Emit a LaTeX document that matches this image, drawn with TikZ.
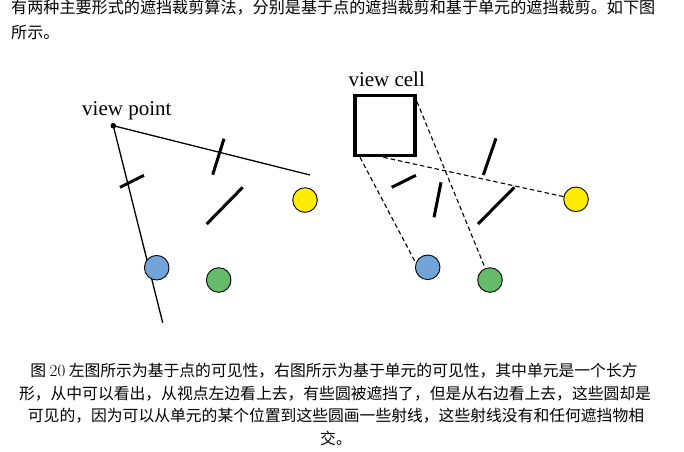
\documentclass[tikz,border=0pt]{standalone}
\usepackage{fontspec}
\newfontfamily\cjk{Noto Sans CJK SC}
\newfontfamily\tms{Liberation Serif}
\definecolor{bb}{RGB}{114,164,216}
\definecolor{gb}{RGB}{102,187,106}
\definecolor{yb}{RGB}{255,236,0}
\begin{document}
\begin{tikzpicture}[x=1pt,y=-1pt,
  ray/.style={line width=1.3pt},
  occ/.style={line width=3pt},
  dray/.style={line width=1.1pt, dash pattern=on 4.5pt off 3pt},
  ball/.style={circle, draw, line width=0.9pt, minimum size=24.6pt, inner sep=0pt},
  lbl/.style={font=\tms\fontsize{21}{24}\selectfont, inner sep=0pt},
  cjktext/.style={font=\cjk\fontsize{15.8}{18}\selectfont, inner sep=0pt},
  cjktop/.style={font=\cjk\fontsize{16.1}{18}\selectfont, inner sep=0pt}]
\useasboundingbox (0,0) rectangle (684,451);

% top paragraph
\node[cjktop, anchor=west] (p1) at (11,7.5)
  {有两种主要形式的遮挡裁剪算法，分别是基于点的遮挡裁剪和基于单元的遮挡裁剪。如下图};
\node[cjktop, anchor=west] (p2) at (11,32) {所示。};

% left diagram
\coordinate (vp) at (113.3,125.7);
\coordinate (r1) at (310,175);
\coordinate (r2) at (162.7,322.7);
\draw[ray] (vp) -- (r1);
\draw[ray] (vp) -- (r2);
\fill (vp) circle (2.8pt);
\node[lbl, anchor=base west] (vplbl) at (82,115) {view point};
\draw[occ] (120,187.3) -- (144,175.3);
\draw[occ] (224,138.7) -- (212.7,174.7);
\draw[occ] (206.7,224) -- (242.7,187.3);
\node[ball, fill=yb] (ly) at (305,200) {};
\node[ball, fill=bb] (lb) at (156.7,267.7) {};
\node[ball, fill=gb] (lg) at (218.7,280) {};

% right diagram
\node[ball, fill=yb] (ry) at (576,199.3) {};
\node[ball, fill=bb] (rb) at (427.7,267.3) {};
\node[ball, fill=gb] (rg) at (490,280) {};
\coordinate (cg) at (417,101.7);
\coordinate (cb) at (360,157.3);
\coordinate (cy) at (383.3,157.3);
\draw[dray] (cg) -- (rg);
\draw[dray] (cb) -- (rb.160);
\draw[dray] (cy) -- (ry);
\node[draw, line width=3.5pt, minimum width=60pt, minimum height=60pt, inner sep=0pt, fill=white] (cell) at (385,125.7) {};
\node[lbl, anchor=base west] (cellbl) at (348.3,86) {view cell};
\draw[occ] (391.7,187.3) -- (416,175.3);
\draw[occ] (434,217.3) -- (441,182.3);
\draw[occ] (483.3,175) -- (496,138.3);
\draw[occ] (478,224) -- (514.3,187.3);

% caption
\node[cjktext] (c1) at (334,370.5) {图 {\rmfamily\fontsize{17}{18}\selectfont 20} 左图所示为基于点的可见性，右图所示为基于单元的可见性，其中单元是一个长方};
\node[cjktext] (c2) at (335,393.3) {形，从中可以看出，从视点左边看上去，有些圆被遮挡了，但是从右边看上去，这些圆却是};
\node[cjktext] (c3) at (336,416) {可见的，因为可以从单元的某个位置到这些圆画一些射线，这些射线没有和任何遮挡物相};
\node[cjktext] (c4) at (336,438.7) {交。};
\end{tikzpicture}
\end{document}
